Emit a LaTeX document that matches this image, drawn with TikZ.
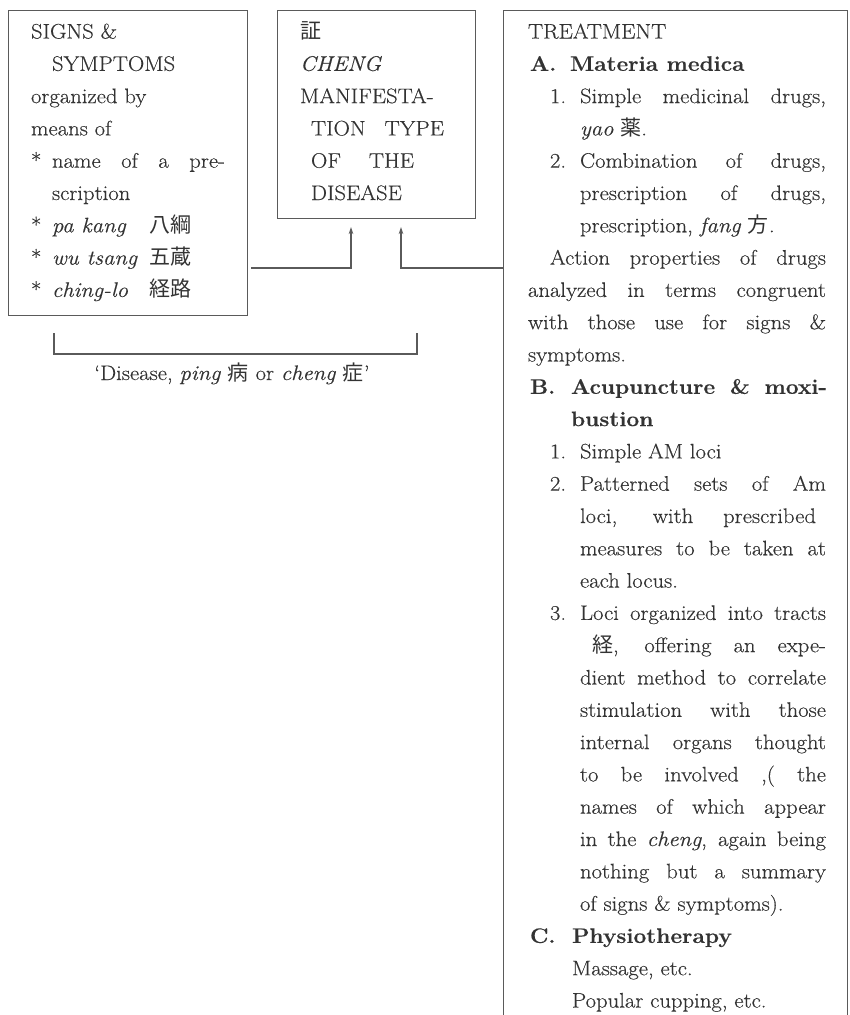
\documentclass[tikz,border=0pt]{standalone}
\usepackage{fontspec}
\setmainfont{Latin Modern Roman}[FakeStretch=1.08,FakeBold=0.35]
\newfontfamily\cjk{Noto Sans CJK JP}
\usetikzlibrary{arrows.meta}
\definecolor{ink}{HTML}{333333}
\definecolor{rulec}{HTML}{5A5A5A}
\tikzset{
 txt/.style={anchor=base west, inner sep=0pt, outer sep=0pt, text=ink, font=\fontsize{21}{25}\selectfont},
 box/.style={draw=rulec, line width=1.1pt, anchor=north west, inner sep=0pt},
 conn/.style={draw=rulec, line width=1.1pt},
 arr/.style={conn, -{Stealth[length=7pt,width=4.5pt]}},
}
\newcommand\T[4]{\node[txt] (#1) at (#2,{38.5+32.3*#3}) {#4};}
\newcommand\J[5]{\node[txt] (#1) at (#2,{38.5+32.3*#3}) {\makebox[#4pt][s]{#5}};}
\begin{document}
\begin{tikzpicture}[x=1pt,y=-1pt]
\clip (0,0) rectangle (849,1015);
% boxes
\node[box, minimum width=239pt, minimum height=305pt] (L) at (8,10) {};
\node[box, minimum width=198pt, minimum height=208pt] (M) at (277,10) {};
\node[box, minimum width=344pt, minimum height=1040pt] (R) at (503,10) {};
% connectors
\coordinate (a1) at (351,227);
\coordinate (a2) at (401,227);
\coordinate (c1) at (251,268);
\draw[arr] (c1) -| (a1);
\draw[arr] (R.west |- c1) -| (a2);
% bracket
\coordinate (bl) at (54,333);
\coordinate (br) at (417,333);
\draw[conn] (bl) -- ++(0,21) -| (br);
\node[txt, anchor=base] (dis) at (232,380) {`Disease, \textit{ping} {\cjk 病} or \textit{cheng} {\cjk 症}'};
% left box text
\T{l0}{31}{0}{SIGNS \&}
\T{l1}{52}{1}{SYMPTOMS}
\T{l2}{31}{2}{organized by}
\T{l3}{31}{3}{means of}
\T{l4s}{31}{4}{*}
\J{l4}{52}{4}{173}{name of a pre-}
\T{l5}{52}{5}{scription}
\T{l6s}{31}{6}{*}
\T{l6}{52}{6}{\textit{pa kang}}
\T{l6c}{149}{6}{\cjk 八綱}
\T{l7s}{31}{7}{*}
\T{l7}{52}{7}{\textit{wu tsang}}
\T{l7c}{149}{7}{\cjk 五蔵}
\T{l8s}{31}{8}{*}
\T{l8}{52}{8}{\textit{ching-lo}}
\T{l8c}{149}{8}{\cjk 経路}
% middle box text
\T{m0}{300}{0}{\cjk 証}
\T{m1}{300}{1}{\textit{CHENG}}
\T{m2}{300}{2}{MANIFESTA-}
\J{m3}{311}{3}{133}{TION TYPE}
\J{m4}{311}{4}{103}{OF THE}
\T{m5}{311}{5}{DISEASE}
% right box text
\T{r0}{528}{0}{TREATMENT}
\T{r1a}{530}{1}{\textbf{A.}}
\T{r1}{570}{1}{\textbf{Materia medica}}
\T{r2n}{550}{2}{1.}
\J{r2}{580}{2}{246}{Simple medicinal drugs,}
\T{r3}{580}{3}{\textit{yao} {\cjk 薬}.}
\T{r4n}{550}{4}{2.}
\J{r4}{580}{4}{246}{Combination of drugs,}
\J{r5}{580}{5}{246}{prescription of drugs,}
\T{r6}{580}{6}{prescription, \textit{fang} {\cjk 方}.}
\J{r7}{550}{7}{276}{Action properties of drugs}
\J{r8}{528}{8}{298}{analyzed in terms congruent}
\J{r9}{528}{9}{298}{with those use for signs \&}
\T{r10}{528}{10}{symptoms.}
\T{r11b}{530}{11}{\textbf{B.}}
\J{r11}{571}{11}{256}{\textbf{Acupuncture \& moxi-}}
\T{r12}{571}{12}{\textbf{bustion}}
\T{r13n}{550}{13}{1.}
\T{r13}{580}{13}{Simple AM loci}
\T{r14n}{550}{14}{2.}
\J{r14}{580}{14}{246}{Patterned sets of Am}
\J{r15}{580}{15}{236}{loci, with prescribed}
\J{r16}{580}{16}{246}{measures to be taken at}
\T{r17}{580}{17}{each locus.}
\T{r18n}{550}{18}{3.}
\J{r18}{580}{18}{246}{Loci organized into tracts}
\J{r19}{592}{19}{234}{{\cjk 経}, offering an expe-}
\J{r20}{580}{20}{246}{dient method to correlate}
\J{r21}{580}{21}{246}{stimulation with those}
\J{r22}{580}{22}{246}{internal organs thought}
\J{r23}{580}{23}{246}{to be involved ,( the}
\J{r24}{580}{24}{246}{names of which appear}
\J{r25}{580}{25}{246}{in the \textit{cheng}, again being}
\J{r26}{580}{26}{246}{nothing but a summary}
\T{r27}{580}{27}{of signs \& symptoms).}
\T{r28c}{530}{28}{\textbf{C.}}
\T{r28}{572}{28}{\textbf{Physiotherapy}}
\T{r29}{572}{29}{Massage, etc.}
\T{r30}{572}{30}{Popular cupping, etc.}
\end{tikzpicture}
\end{document}
